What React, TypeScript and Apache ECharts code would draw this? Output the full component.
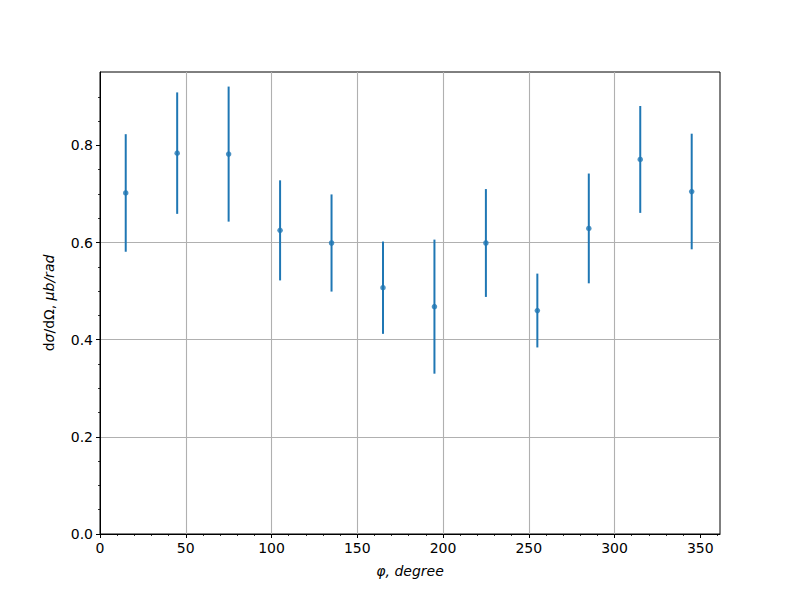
import React, { useEffect, useRef } from "react";
import * as echarts from "echarts";

const angles = [15, 45, 75, 105, 135, 165, 195, 225, 255, 285, 315, 345];
const values = [0.702, 0.784, 0.782, 0.625, 0.599, 0.507, 0.468, 0.599, 0.460, 0.629, 0.771, 0.705];
const errors = [0.121, 0.125, 0.139, 0.103, 0.100, 0.095, 0.138, 0.111, 0.076, 0.113, 0.110, 0.119];

const xMajorTicks = [0, 50, 100, 150, 200, 250, 300, 350];
const xMinorTicks = [0, 10, 20, 30, 40, 50, 60, 70, 80, 90, 100, 110, 120, 130, 140, 150, 160, 170, 180, 190, 200, 210, 220, 230, 240, 250, 260, 270, 280, 290, 300, 310, 320, 330, 340, 350, 360];
const yMajorTicks = [0, 0.2, 0.4, 0.6, 0.8];
const yMinorTicks = [0, 0.05, 0.1, 0.15, 0.2, 0.25, 0.3, 0.35, 0.4, 0.45, 0.5, 0.55, 0.6, 0.65, 0.7, 0.75, 0.8, 0.85, 0.9];

const X_MIN = 0;
const X_MAX = 361.5;
const Y_MIN = 0;
const Y_MAX = 0.951;

const BLUE = "#1f77b4";
const FONT = "DejaVu Sans";

export default function App() {
  const ref = useRef<HTMLDivElement>(null);

  useEffect(() => {
    if (!ref.current) return;
    const chart = echarts.init(ref.current, null, { renderer: "svg" });

    const errData = angles.map((a, i) => [a, values[i] - errors[i], values[i] + errors[i]]);
    const ptData = angles.map((a, i) => [a, values[i]]);

    const majorAxisCommon = {
      axisLine: { show: true, lineStyle: { color: "#000", width: 1 } },
      splitLine: { show: true, showMinLine: false, showMaxLine: false, lineStyle: { color: "#b0b0b0", width: 1.1 } },
    };
    const tickStyle = { show: true, inside: false, length: 4, lineStyle: { color: "#000", width: 1 } };
    const labelStyle = { color: "#000", fontFamily: FONT, fontSize: 14, margin: 7 };

    const minorAxisCommon = {
      axisLine: { show: false },
      splitLine: { show: false },
      axisLabel: { show: false },
    };
    const minorTickStyle = { show: true, inside: false, length: 2, lineStyle: { color: "#000", width: 0.8 } };

    chart.setOption({
      animation: false,
      backgroundColor: "#fff",
      grid: {
        left: 100,
        right: 80,
        top: 72,
        bottom: 66,
        show: true,
        borderColor: "#000",
        borderWidth: 1,
        backgroundColor: "transparent",
      },
      xAxis: [
        {
          type: "value",
          min: X_MIN,
          max: X_MAX,
          interval: 50,
          ...majorAxisCommon,
          axisTick: { ...tickStyle, customValues: xMajorTicks },
          axisLabel: { ...labelStyle, customValues: xMajorTicks, formatter: (v: number) => String(v) },
          name: "{i|φ, degree}",
          nameLocation: "middle",
          nameGap: 30,
          nameTextStyle: {
            rich: { i: { fontFamily: FONT, fontSize: 14, fontStyle: "italic", color: "#000" } },
          },
        },
        {
          type: "value",
          position: "bottom",
          min: X_MIN,
          max: X_MAX,
          interval: 10,
          ...minorAxisCommon,
          axisTick: { ...minorTickStyle, customValues: xMinorTicks },
        },
      ],
      yAxis: [
        {
          type: "value",
          min: Y_MIN,
          max: Y_MAX,
          interval: 0.2,
          ...majorAxisCommon,
          axisTick: { ...tickStyle, customValues: yMajorTicks },
          axisLabel: { ...labelStyle, customValues: yMajorTicks, formatter: (v: number) => v.toFixed(1) },
          name: "{n|d}{i|σ}{n|/dΩ, }{i|μb/rad}",
          nameLocation: "middle",
          nameRotate: 90,
          nameGap: 44,
          nameTextStyle: {
            rich: {
              n: { fontFamily: FONT, fontSize: 14, color: "#000" },
              i: { fontFamily: FONT, fontSize: 14, fontStyle: "italic", color: "#000" },
            },
          },
        },
        {
          type: "value",
          position: "left",
          min: Y_MIN,
          max: Y_MAX,
          interval: 0.05,
          ...minorAxisCommon,
          axisTick: { ...minorTickStyle, customValues: yMinorTicks },
        },
      ],
      series: [
        {
          type: "custom",
          xAxisIndex: 0,
          yAxisIndex: 0,
          data: errData,
          encode: { x: 0, y: [1, 2] },
          renderItem: (params: any, api: any) => {
            const x = api.value(0);
            const lo = api.coord([x, api.value(1)]);
            const hi = api.coord([x, api.value(2)]);
            return {
              type: "line",
              shape: { x1: lo[0], y1: lo[1], x2: hi[0], y2: hi[1] },
              style: { stroke: BLUE, lineWidth: 2 },
            };
          },
          z: 3,
        },
        {
          type: "scatter",
          xAxisIndex: 0,
          yAxisIndex: 0,
          data: ptData,
          symbol: "circle",
          symbolSize: 5.5,
          itemStyle: { color: BLUE },
          z: 4,
        },
      ],
    });

    return () => chart.dispose();
  }, []);

  return <div ref={ref} style={{ width: 800, height: 600, position: "absolute", left: 0, top: 0 }} />;
}
